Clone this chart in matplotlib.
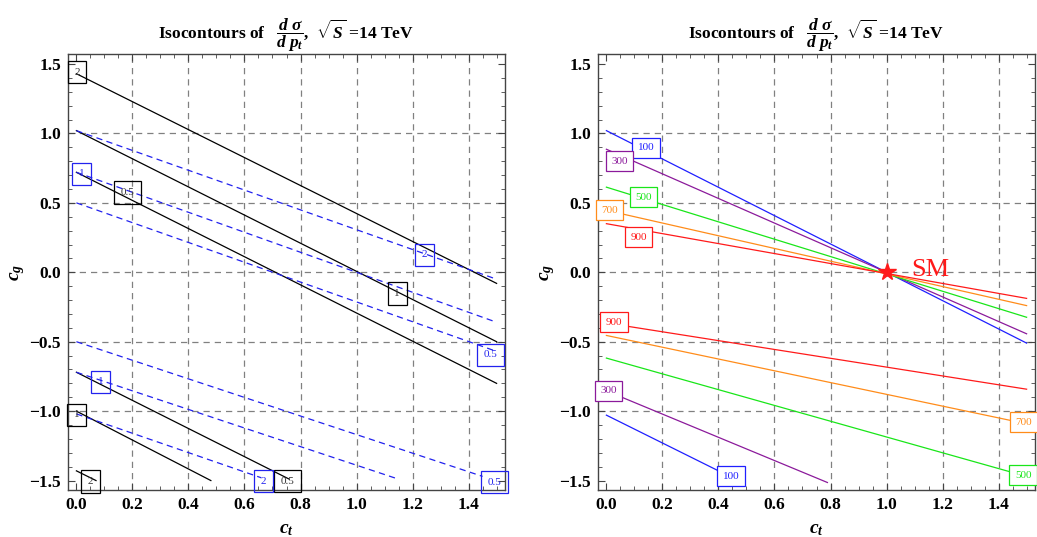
import matplotlib.pyplot as plt
from matplotlib.ticker import MultipleLocator

plt.rcParams['font.family'] = ['Liberation Serif', 'DejaVu Serif']
plt.rcParams['mathtext.fontset'] = 'custom'
plt.rcParams['mathtext.rm'] = 'Liberation Serif:bold'
plt.rcParams['mathtext.it'] = 'Liberation Serif:italic:bold'
plt.rcParams['mathtext.bf'] = 'Liberation Serif:bold'

# left panel: contour lines (start x, start y, end x, end y)
black_x0 = [0.0, 0.0, 0.0, 0.0, 0.0, 0.0]
black_y0 = [1.43, 1.02, 0.72, -0.72, -1.0, -1.43]
black_x1 = [1.5, 1.5, 1.5, 0.76, 0.48, 0.07]
black_y1 = [-0.08, -0.5, -0.8, -1.49, -1.5, -1.5]
black_lab = ['2', '1', '0.5', '0.5', '1', '2']
black_lx = [0.002, 1.145, 0.181, 0.754, 0.0, 0.051]
black_ly = [1.44, -0.154, 0.575, -1.504, -1.027, -1.507]

blue_x0 = [0.0, 0.0, 0.0, 0.0, 0.0, 0.0]
blue_y0 = [1.02, 0.72, 0.5, -0.5, -0.72, -1.02]
blue_x1 = [1.5, 1.5, 1.5, 1.45, 1.15, 0.66]
blue_y1 = [-0.05, -0.36, -0.57, -1.47, -1.49, -1.48]
blue_lab = ['2', '1', '0.5', '0.5', '1', '2']
blue_lx = [1.242, 0.019, 1.479, 1.492, 0.087, 0.669]
blue_ly = [0.126, 0.708, -0.594, -1.511, -0.79, -1.504]

# right panel: upper family (through SM point) and lower family
levels = ['100', '300', '500', '700', '900']
colors = ['#1f1fff', '#8b1a9b', '#19e619', '#ff8c1a', '#ff1a1a']
up_y0 = [1.02, 0.886, 0.613, 0.446, 0.35]
up_y1 = [-0.51, -0.443, -0.324, -0.24, -0.188]
up_lx = [0.141, 0.047, 0.132, 0.011, 0.115]
up_ly = [0.897, 0.80, 0.541, 0.446, 0.252]

low_y0 = [-1.029, -0.854, -0.618, -0.455, -0.365]
low_x1 = [0.40, 0.789, 1.45, 1.45, 1.5]
low_y1 = [-1.43, -1.514, -1.442, -1.07, -0.842]
low_lx = [0.446, 0.008, 1.488, 1.49, 0.028]
low_ly = [-1.47, -0.854, -1.463, -1.079, -0.36]

title = r'Isocontours of   $\dfrac{d\;\sigma}{d\;p_t}$,  $\sqrt{S}$ =14 TeV'

fig = plt.figure(figsize=(10.37, 5.37), dpi=100)
ax1 = fig.add_axes([68 / 1037, 47 / 537, 437 / 1037, 436 / 537])
ax2 = fig.add_axes([598 / 1037, 47 / 537, 437 / 1037, 436 / 537])


def style(ax):
    ax.set_xlim(-0.03, 1.53)
    ax.set_ylim(-1.568, 1.572)
    ax.xaxis.set_major_locator(MultipleLocator(0.2))
    ax.xaxis.set_minor_locator(MultipleLocator(0.05))
    ax.yaxis.set_major_locator(MultipleLocator(0.5))
    ax.yaxis.set_minor_locator(MultipleLocator(0.1))
    ax.tick_params(which='both', direction='in', top=True, right=True,
                   labeltop=False, labelright=False, color='#444444')
    ax.tick_params(which='major', length=5, labelsize=12.5, pad=5)
    ax.tick_params(which='minor', length=3)
    for lab in ax.get_xticklabels() + ax.get_yticklabels():
        lab.set_fontweight('bold')
    for s in ax.spines.values():
        s.set_color('#444444')
        s.set_linewidth(1.0)
    for gx in [0.2, 0.4, 0.6, 0.8, 1.0, 1.2, 1.4]:
        ax.axvline(gx, color='gray', ls=(0, (5, 4)), lw=0.9, zorder=0)
    for gy in [-1.0, -0.5, 0.0, 0.5, 1.0]:
        ax.axhline(gy, color='gray', ls=(0, (5, 4)), lw=0.9, zorder=0)
    ax.set_xlabel('$c_t$', fontsize=14, labelpad=6)
    ax.set_ylabel('$c_g$', fontsize=14, labelpad=2)
    ax.set_title(title, fontsize=12.5, fontweight='bold', pad=5)


style(ax1)
style(ax2)

for i in range(len(black_y0)):
    ax1.plot([black_x0[i], black_x1[i]], [black_y0[i], black_y1[i]], c='black', lw=0.9)
    ax1.text(black_lx[i], black_ly[i], black_lab[i], fontsize=8, ha='center', va='center',
             color='#333333', bbox=dict(boxstyle='square,pad=0.6', fc='none', ec='black', lw=0.9))
for i in range(len(blue_y0)):
    ax1.plot([blue_x0[i], blue_x1[i]], [blue_y0[i], blue_y1[i]], c='#2222ee', lw=0.9,
             ls=(0, (5, 3.5)))
    ax1.text(blue_lx[i], blue_ly[i], blue_lab[i], fontsize=8, ha='center', va='center',
             color='#2222ee', bbox=dict(boxstyle='square,pad=0.6', fc='none', ec='#2222ee', lw=0.9))

for i in range(len(levels)):
    ax2.plot([0.0, 1.5], [up_y0[i], up_y1[i]], c=colors[i], lw=0.9)
    ax2.plot([0.0, low_x1[i]], [low_y0[i], low_y1[i]], c=colors[i], lw=0.9)
    for lx, ly in [(up_lx[i], up_ly[i]), (low_lx[i], low_ly[i])]:
        ax2.text(lx, ly, levels[i], fontsize=8, ha='center', va='center', color=colors[i],
                 zorder=5, bbox=dict(boxstyle='square,pad=0.5', fc='white', ec=colors[i], lw=0.9))

ax2.plot([1.0], [0.0], marker='*', ms=13, color='#ff1a1a', zorder=6)
ax2.text(1.09, 0.015, 'SM', fontsize=19, color='#ff1a1a', va='center', ha='left')

plt.savefig('out.png', dpi=100)
